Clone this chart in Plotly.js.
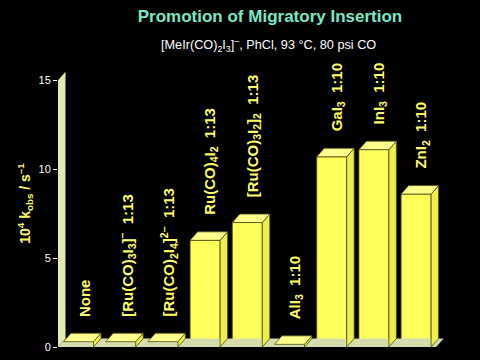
<!DOCTYPE html>
<html>
<head>
<meta charset="utf-8">
<script src="https://cdn.plot.ly/plotly-3.0.1.min.js"></script>
<style>html,body{margin:0;padding:0;background:#000;}#chart{width:480px;height:360px;}</style>
</head>
<body>
<div id="chart"></div>
<script>
// ---- data ----
const categories = [
  "None",
  "[Ru(CO)<sub>3</sub>I<sub>3</sub>]<sup>–</sup>&nbsp; 1:13",
  "[Ru(CO)<sub>2</sub>I<sub>4</sub>]<sup>2–</sup>&nbsp; 1:13",
  "Ru(CO)<sub>4</sub>I<sub>2</sub>&nbsp; 1:13",
  "[Ru(CO)<sub>3</sub>I<sub>2</sub>]<sub>2</sub>&nbsp; 1:13",
  "AlI<sub>3</sub>&nbsp; 1:10",
  "GaI<sub>3</sub>&nbsp; 1:10",
  "InI<sub>3</sub>&nbsp; 1:10",
  "ZnI<sub>2</sub>&nbsp; 1:10"
];
const kobs = [0.3, 0.3, 0.3, 6.0, 7.0, 0.15, 10.7, 11.1, 8.6];
const yTicks = [0, 5, 10, 15];

// ---- geometry (pixel-based frame) ----
const W = 480, H = 360;
const L = 58, R = 450, T = 60, B = 347;
const pxPerCat = 42.2, center0 = 78.5, pxPerUnit = 17.78;
const xmin = (L - center0) / pxPerCat;
const xmax = (R - center0) / pxPerCat;
const ymax = (B - T) / pxPerUnit;
const dxU = 7.5 / pxPerCat;
const dyU = 8.5 / pxPerUnit;
const halfW = 15 / pxPerCat;

const idx = categories.map((_, i) => i);

// side and top faces
const sideX = [], sideY = [], topX = [], topY = [];
idx.forEach(i => {
  const v = kobs[i];
  const x0 = i - halfW, x1 = i + halfW;
  sideX.push(x1, x1, x1 + dxU, x1 + dxU, x1, null);
  sideY.push(0, v, v + dyU, dyU, 0, null);
  topX.push(x0, x0 + dxU, x1 + dxU, x1, x0, null);
  topY.push(v, v + dyU, v + dyU, v, v, null);
});

const floorEnd = idx.length - 1 + halfW + 0.12;
const wallTop = 15;

const edge = '#4a4a10';
const traces = [
  { // floor
    type: 'scatter', mode: 'lines', fill: 'toself',
    x: [xmin, floorEnd, floorEnd + dxU, xmin + dxU, xmin],
    y: [0, 0, dyU, dyU, 0],
    fillcolor: '#d6dcae', line: {width: 0}, hoverinfo: 'skip', showlegend: false
  },
  { // wall
    type: 'scatter', mode: 'lines', fill: 'toself',
    x: [xmin, xmin, xmin + dxU, xmin + dxU, xmin],
    y: [0, wallTop, wallTop + dyU, dyU, 0],
    fillcolor: '#e2eab0', line: {width: 0}, hoverinfo: 'skip', showlegend: false
  },
  { // front faces
    type: 'bar', x: idx, y: kobs, width: 2 * halfW,
    marker: {color: '#ffff5c', line: {color: edge, width: 0.8}},
    hoverinfo: 'y', showlegend: false
  },
  { // side faces
    type: 'scatter', mode: 'lines', fill: 'toself', x: sideX, y: sideY,
    fillcolor: '#eeee4c', line: {color: edge, width: 0.8}, hoverinfo: 'skip', showlegend: false
  },
  { // top faces
    type: 'scatter', mode: 'lines', fill: 'toself', x: topX, y: topY,
    fillcolor: '#ffff8c', line: {color: edge, width: 0.8}, hoverinfo: 'skip', showlegend: false
  }
];

const labelFont = {family: 'Liberation Sans, Arial, sans-serif', size: 15, color: '#ffff66'};
const annotations = idx.map(i => ({
  x: i + 0.14, y: kobs[i], xref: 'x', yref: 'y',
  text: '<b>' + categories[i] + '</b>', textangle: -90,
  showarrow: false, xanchor: 'center', yanchor: 'bottom', yshift: 23,
  font: labelFont
}));
annotations.push({
  xref: 'paper', yref: 'paper', x: (268 - L) / (R - L), y: 1 + 15 / (B - T),
  xanchor: 'center', yanchor: 'middle', showarrow: false,
  text: '[MeIr(CO)<sub>2</sub>I<sub>3</sub>]<sup>–</sup>, PhCl, 93 °C, 80 psi CO',
  font: {family: 'Liberation Sans, Arial, sans-serif', size: 12.7, color: '#ffffff'}
});

const layout = {
  width: W, height: H,
  paper_bgcolor: '#000000', plot_bgcolor: 'rgba(0,0,0,0)',
  margin: {l: L, r: W - R, t: T, b: H - B},
  title: {
    text: '<b>Promotion of Migratory Insertion</b>',
    font: {family: 'Liberation Sans, Arial, sans-serif', size: 17, color: '#7ae8c8'},
    xref: 'container', yref: 'container', x: 270 / W, y: 1 - 16 / H,
    xanchor: 'center', yanchor: 'middle'
  },
  xaxis: {range: [xmin, xmax], visible: false, fixedrange: true},
  yaxis: {
    range: [0, ymax], tickvals: yTicks, ticktext: yTicks.map(String),
    ticks: 'outside', ticklen: 4, tickwidth: 1, tickcolor: '#ffffff',
    tickfont: {family: 'Liberation Sans, Arial, sans-serif', size: 11, color: '#ffffff'},
    showgrid: false, zeroline: false, showline: false, fixedrange: true,
    automargin: false,
    title: {
      text: '<b>10<sup>4</sup> k<sub>obs</sub> / s<sup>–1</sup></b>',
      font: {family: 'Liberation Sans, Arial, sans-serif', size: 14, color: '#ffff66'},
      standoff: 4
    }
  },
  annotations: annotations,
  showlegend: false, bargap: 0
};

Plotly.newPlot('chart', traces, layout, {displayModeBar: false, staticPlot: true});
</script>
</body>
</html>
